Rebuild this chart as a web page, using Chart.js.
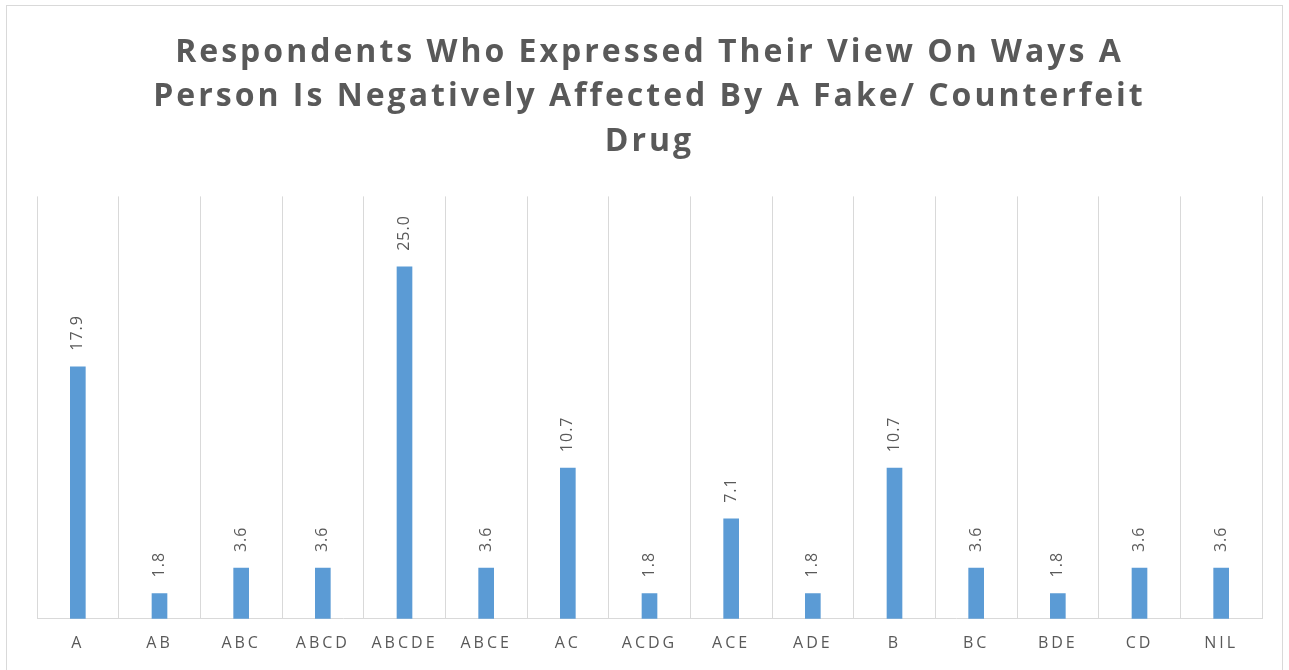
<!DOCTYPE html>
<html>
<head>
<meta charset="utf-8">
<script src="https://cdn.jsdelivr.net/npm/chart.js@4.4.0/dist/chart.umd.min.js"></script>
<style>
  body { margin: 0; background: #fff; }
  #wrap { position: absolute; left: 6px; top: 5px; width: 1277px; height: 680px; border: 1px solid #d9d9d9; box-sizing: border-box; }
  canvas { display: block; }
</style>
</head>
<body>
<div id="wrap"><canvas id="graph"></canvas></div>
<script>
// categories and percentages
const categories = ['A', 'AB', 'ABC', 'ABCD', 'ABCDE', 'ABCE', 'AC', 'ACDG', 'ACE', 'ADE', 'B', 'BC', 'BDE', 'CD', 'NIL'];
const percentages = [17.9, 1.8, 3.6, 3.6, 25.0, 3.6, 10.7, 1.8, 7.1, 1.8, 10.7, 3.6, 1.8, 3.6, 3.6];
const titleLines = ['Respondents Who Expressed Their View On Ways A', 'Person Is Negatively Affected By A Fake/ Counterfeit', 'Drug'];

const grey = '#595959';

// letter spacing like the original
const spacing = {
	id: 'spacing',
	beforeInit(chart) { chart.ctx.letterSpacing = '3px'; },
	beforeUpdate(chart) { chart.ctx.letterSpacing = '3px'; }
};

// rotated value labels on top of the bars
const valueLabels = {
	id: 'valueLabels',
	afterDatasetsDraw(chart) {
		const ctx = chart.ctx;
		const meta = chart.getDatasetMeta(0);
		ctx.save();
		ctx.font = '16px "Open Sans"';
		ctx.fillStyle = grey;
		ctx.letterSpacing = '1px';
		ctx.textAlign = 'left';
		ctx.textBaseline = 'middle';
		meta.data.forEach(function(bar, i) {
			ctx.save();
			ctx.translate(bar.x, bar.y - 16);
			ctx.rotate(-Math.PI / 2);
			ctx.fillText(percentages[i].toFixed(1), 0, 0);
			ctx.restore();
		});
		ctx.restore();
	}
};

let config = {
	type: 'bar',
	data: {
		labels: categories,
		datasets: [{
			data: percentages,
			backgroundColor: '#5b9bd5',
			barThickness: 15
		}]
	},
	options: {
		responsive: false,
		animation: false,
		layout: { padding: { left: 30, right: 20, top: 0, bottom: 3 } },
		plugins: {
			legend: { display: false },
			tooltip: { enabled: false },
			title: {
				display: true,
				text: titleLines,
				color: grey,
				font: { family: '"Open Sans"', size: 32, weight: 'bold', lineHeight: 1.4 },
				padding: { top: 24, bottom: 32 }
			}
		},
		scales: {
			x: {
				grid: { color: '#d9d9d9', offset: true, drawTicks: false },
				border: { color: '#d9d9d9' },
				ticks: { color: grey, font: { family: '"Open Sans"', size: 16 }, padding: 15, maxRotation: 0 }
			},
			y: {
				display: false,
				min: 0,
				max: 30
			}
		}
	},
	plugins: [spacing, valueLabels]
};

const canvas = document.getElementById('graph');
canvas.width = 1275;
canvas.height = 665;
window.myBar = new Chart(canvas.getContext('2d'), config);
</script>
</body>
</html>
